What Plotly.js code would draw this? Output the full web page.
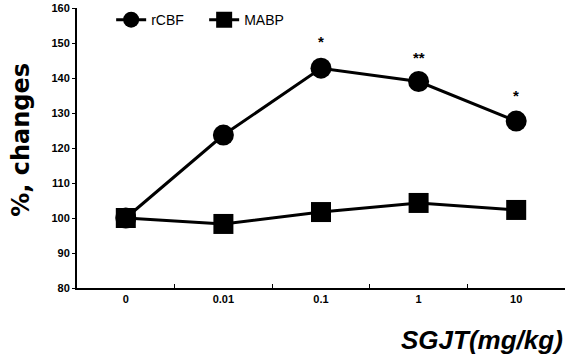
<!DOCTYPE html>
<html><head><meta charset="utf-8">
<script src="https://cdn.plot.ly/plotly-3.0.1.min.js"></script>
<style>body{margin:0;background:#fff}#c{width:565px;height:360px}</style>
</head><body><div id="c"></div>
<script>
const doses = ['0', '0.01', '0.1', '1', '10'];
const rCBF = [100, 123.7, 142.8, 139, 127.7];
const MABP = [100, 98.3, 101.7, 104.3, 102.3];
const sigDoses = ['0.1', '1', '10'];
const sigMarks = ['*', '**', '*'];
const sigY = [150.3, 146, 134.9];

const traces = [
  {x: doses, y: rCBF, name: 'rCBF', type: 'scatter', mode: 'lines+markers',
   line: {color: '#000', width: 3}, marker: {symbol: 'circle', size: 21, color: '#000'}},
  {x: doses, y: MABP, name: 'MABP', type: 'scatter', mode: 'lines+markers',
   line: {color: '#000', width: 3}, marker: {symbol: 'square', size: 20, color: '#000'}}
];
const ann = sigDoses.map((d, i) => ({x: doses.indexOf(d), y: sigY[i], text: '<b>' + sigMarks[i] + '</b>', showarrow: false,
  font: {family: 'Liberation Sans', size: 15, color: '#000'}, yanchor: 'middle'}));
ann.push({xref: 'paper', yref: 'paper', x: 1, y: -0.186, xanchor: 'right', yanchor: 'middle',
  text: '<b><i>SGJT(mg/kg)</i></b>', showarrow: false,
  font: {family: 'Liberation Sans', size: 26, color: '#000'}});
ann.push({xref: 'paper', yref: 'paper', x: -0.115, y: 0.529, xanchor: 'center', yanchor: 'middle',
  textangle: -90, text: '<b>%, changes</b>', showarrow: false,
  font: {family: 'DejaVu Sans', size: 24, color: '#000'}});

const layout = {
  width: 565, height: 360,
  margin: {l: 77, r: 0, t: 8, b: 72},
  paper_bgcolor: '#fff', plot_bgcolor: '#fff',
  showlegend: true,
  legend: {orientation: 'h', x: 0.07, y: 0.957, xanchor: 'left', yanchor: 'middle',
    entrywidth: 48, entrywidthmode: 'pixels',
    font: {family: 'Liberation Sans Narrow, Liberation Sans', size: 14, color: '#000'},
    bgcolor: 'rgba(0,0,0,0)'},
  xaxis: {type: 'category', range: [-0.5, 4.5], showgrid: false, zeroline: false,
    showline: true, linecolor: '#000', linewidth: 2,
    ticks: 'inside', tickson: 'boundaries', ticklen: 4, tickcolor: '#000',
    tickfont: {family: 'Liberation Sans', size: 11, color: '#000', weight: 'bold'}},
  yaxis: {range: [80, 160], dtick: 10, showgrid: false, zeroline: false,
    showline: true, linecolor: '#000', linewidth: 2,
    ticks: 'outside', ticklen: 3, tickcolor: '#000',
    tickfont: {family: 'Liberation Sans Narrow, Liberation Sans', size: 11, color: '#000', weight: 'bold'}},
  annotations: ann
};
Plotly.newPlot('c', traces, layout, {displayModeBar: false, staticPlot: true});
</script></body></html>
